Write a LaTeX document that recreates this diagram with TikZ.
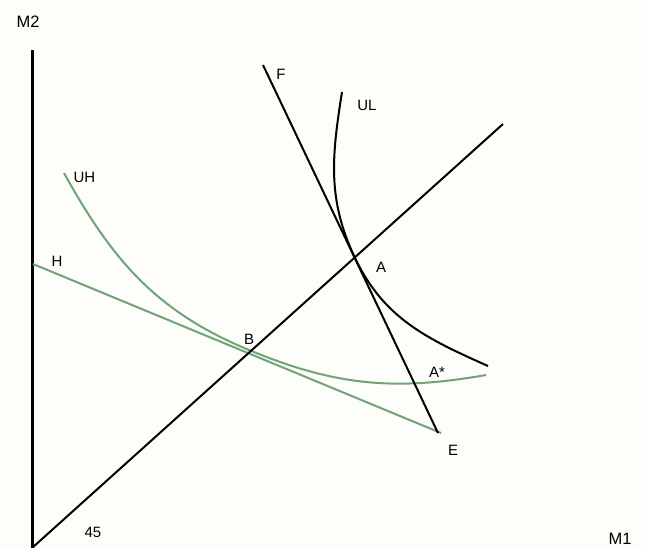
\documentclass[tikz,border=0pt]{standalone}
\usepackage{fontspec}
\setmainfont{Liberation Sans}
\definecolor{ugreen}{RGB}{112,163,118}
\definecolor{bgc}{RGB}{253,253,250}
\begin{document}
\begin{tikzpicture}[x=1pt,y=1pt,
  lbl/.style={inner sep=0pt,font=\fontsize{15}{18}\selectfont},
  axlbl/.style={inner sep=0pt,font=\fontsize{16.5}{19}\selectfont},
  blk/.style={draw=black,line width=2pt},
  grn/.style={draw=ugreen,line width=2pt}]
\fill[bgc] (0,0) rectangle (647,548);
\useasboundingbox (0,0) rectangle (647,548);
% coordinates
\coordinate (O) at (32,0);
\coordinate (Top) at (32,498);
\coordinate (D) at (503,424);
\coordinate (Ftop) at (263,483);
\coordinate (Fbot) at (438,115);
\coordinate (ULs) at (342,456);
\coordinate (Apt) at (355,290);
\coordinate (ULe) at (488,182);
\coordinate (Hpt) at (33,284);
\coordinate (Ept) at (441,115);
\coordinate (UHs) at (64,375);
\coordinate (Bpt) at (249,198);
\coordinate (UHe) at (486,173);
% axis
\draw[line width=3pt] (Top) -- (O);
% green
\draw[grn] (Hpt) -- (Ept);
\draw[grn] (UHs) to[out=-61,in=157.5] (Bpt) to[out=-22.5,in=190] (UHe);
% black
\draw[blk] (O) -- (D);
\draw[blk] (Ftop) -- (Fbot);
\draw[blk] (ULs) to[out=-99,in=115.5] (Apt) to[out=-64.5,in=156] (ULe);
% labels
\node[axlbl] (lM2) at (28,526.5) {M2};
\node[axlbl] (lM1) at (620,9) {M1};
\node[lbl] (lF) at (281,473.5) {F};
\node[lbl] (lUL) at (367,443) {UL};
\node[lbl] (lUH) at (84.5,370.5) {UH};
\node[lbl] (lH) at (57,287) {H};
\node[lbl] (lA) at (381,281) {A};
\node[lbl] (lB) at (249,209) {B};
\node[lbl] (lAs) at (437,176) {A*};
\node[lbl] (lE) at (453,98) {E};
\node[lbl] (l45) at (93,16) {45};
\end{tikzpicture}
\end{document}
